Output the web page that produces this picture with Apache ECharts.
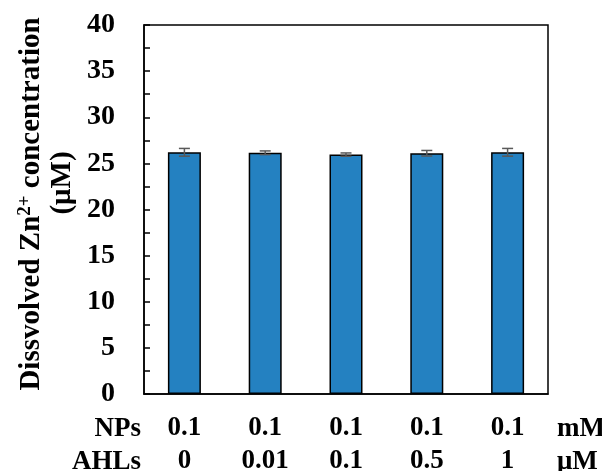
<!DOCTYPE html>
<html>
<head>
<meta charset="utf-8">
<script src="https://cdn.jsdelivr.net/npm/echarts@6/dist/echarts.min.js"></script>
<style>html,body{margin:0;padding:0;background:#fff;}#c{width:602px;height:471px;}</style>
</head>
<body>
<div id="c"></div>
<script>
const npsLabels = ['0.1', '0.1', '0.1', '0.1', '0.1'];
const ahlLabels = ['0', '0.01', '0.1', '0.5', '1'];
const values = [26.2, 26.15, 25.95, 26.1, 26.2];
const errors = [0.42, 0.2, 0.18, 0.3, 0.42];
const yTicks = [0, 5, 10, 15, 20, 25, 30, 35, 40];

const FONT = "'Liberation Serif', 'Times New Roman', serif";
const chart = echarts.init(document.getElementById('c'));
const cats = npsLabels.map((n, i) => n + '\n' + ahlLabels[i]);

chart.setOption({
  animation: false,
  grid: { left: 144, right: 54, top: 25, bottom: 77, show: true, borderColor: '#000', borderWidth: 1.5, backgroundColor: 'transparent', outerBoundsMode: 'none', containLabel: false },
  xAxis: {
    type: 'category',
    data: cats,
    axisLine: { lineStyle: { color: '#000', width: 1.5 } },
    axisTick: { show: false },
    axisLabel: { color: '#000', fontFamily: FONT, fontWeight: 'bold', fontSize: 27, lineHeight: 33, margin: 18, interval: 0 }
  },
  yAxis: {
    type: 'value',
    min: yTicks[0], max: yTicks[yTicks.length - 1], interval: 5,
    splitLine: { show: false },
    axisLine: { show: true, lineStyle: { color: '#000', width: 1.5 } },
    axisTick: { show: true, inside: true, length: 6, lineStyle: { color: '#000', width: 1.5 } },
    minorTick: { show: true, splitNumber: 2, length: 6, lineStyle: { color: '#000', width: 1.5 } },
    axisLabel: { color: '#000', fontFamily: FONT, fontWeight: 'bold', fontSize: 28, margin: 29 }
  },
  graphic: [
    { type: 'text', x: 32, y: 204, rotation: Math.PI / 2,
      style: { text: '{a|Dissvolved Zn}{b|2+}{a| concentration}', align: 'center', verticalAlign: 'middle',
        rich: { a: { fontFamily: FONT, fontWeight: 'bold', fontSize: 29, fill: '#000', lineHeight: 32 },
                b: { fontFamily: FONT, fontWeight: 'bold', fontSize: 19, fill: '#000', padding: [0, 0, 13, 0], lineHeight: 32 } } } },
    { type: 'text', x: 63, y: 183, rotation: Math.PI / 2,
      style: { text: '(μM)', align: 'center', verticalAlign: 'middle', fontFamily: FONT, fontWeight: 'bold', fontSize: 29, fill: '#000' } },
    { type: 'text', x: 141, y: 429, style: { text: 'NPs', align: 'right', verticalAlign: 'middle', fontFamily: FONT, fontWeight: 'bold', fontSize: 27, fill: '#000' } },
    { type: 'text', x: 141, y: 462, style: { text: 'AHLs', align: 'right', verticalAlign: 'middle', fontFamily: FONT, fontWeight: 'bold', fontSize: 27, fill: '#000' } },
    { type: 'text', x: 557, y: 429, style: { text: 'mM', align: 'left', verticalAlign: 'middle', fontFamily: FONT, fontWeight: 'bold', fontSize: 27, fill: '#000' } },
    { type: 'text', x: 557, y: 462, style: { text: 'μM', align: 'left', verticalAlign: 'middle', fontFamily: FONT, fontWeight: 'bold', fontSize: 27, fill: '#000' } }
  ],
  series: [
    { type: 'bar', data: values, barWidth: 33,
      itemStyle: { color: '#2481c1', borderColor: '#000', borderWidth: 1.5 } },
    { type: 'custom', data: values.map((v, i) => [i, v - errors[i], v + errors[i]]),
      renderItem: function (params, api) {
        const lo = api.coord([api.value(0), api.value(1)]);
        const hi = api.coord([api.value(0), api.value(2)]);
        const w = 5.5;
        const st = { stroke: '#595959', lineWidth: 1.5 };
        return { type: 'group', children: [
          { type: 'line', shape: { x1: hi[0], y1: hi[1], x2: lo[0], y2: lo[1] }, style: st },
          { type: 'line', shape: { x1: hi[0] - w, y1: hi[1], x2: hi[0] + w, y2: hi[1] }, style: st },
          { type: 'line', shape: { x1: lo[0] - w, y1: lo[1], x2: lo[0] + w, y2: lo[1] }, style: st }
        ] };
      }, z: 5 }
  ]
});
</script>
</body>
</html>
